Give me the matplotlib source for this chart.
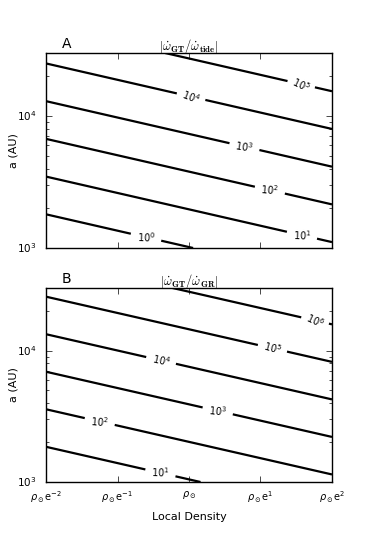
import numpy as np
import matplotlib
matplotlib.use("Agg")
import matplotlib.pyplot as plt

plt.style.use('classic')
plt.rcParams['font.family'] = 'DejaVu Sans'
plt.rcParams['mathtext.fontset'] = 'dejavusans'

# x axis: ln(rho / rho_sun), ticks at e^-2 .. e^2
density_ticks = [-2, -1, 0, 1, 2]
density_labels = [r'$\rho_\odot\mathrm{e}^{-2}$', r'$\rho_\odot\mathrm{e}^{-1}$',
                  r'$\rho_\odot$', r'$\rho_\odot\mathrm{e}^{1}$', r'$\rho_\odot\mathrm{e}^{2}$']
a_range = [1e3, 3e4]  # AU

# ratio ~ norm * a^power * (rho/rho_sun)
power_a = 3.5
log_norm_tide = -10.525
log_norm_gr = -9.57
levels_tide = [0, 1, 2, 3, 4, 5]   # log10 of |w_GT / w_tide|
levels_gr = [1, 2, 3, 4, 5, 6]     # log10 of |w_GT / w_GR|

# approximate clabel positions (ln rho, a)
label_pos_tide = [(-0.60, 1.6e3), (1.58, 1.25e3), (1.13, 2.6e3), (0.77, 5.5e3),
                  (0.01, 1.35e4), (1.55, 1.7e4)]
label_pos_gr = [(-0.40, 1.1e3), (-1.25, 2.7e3), (0.4, 3.3e3), (-0.40, 8.0e3),
                (1.15, 9.8e3), (1.7, 1.55e4)]

x = np.linspace(-2, 2, 200)
a = np.logspace(np.log10(a_range[0]), np.log10(a_range[1]), 200)
X, A = np.meshgrid(x, a)


def draw_panel(ax, log_norm, levels, label_pos):
    log_ratio = log_norm + power_a * np.log10(A) + X / np.log(10)
    cs = ax.contour(X, A, log_ratio, levels=levels, colors='k', linewidths=1.6)
    ax.clabel(cs, fmt=lambda v: r'$\mathit{10^{%d}}$' % v, fontsize=7,
              manual=label_pos, inline=True, inline_spacing=6)
    ax.set_yscale('log')
    ax.set_xlim(-2, 2)
    ax.set_ylim(*a_range)
    ax.set_xticks(density_ticks)
    ax.set_ylabel('a (AU)', fontsize=8, labelpad=-1)
    ax.tick_params(axis='y', labelsize=7.5, pad=7)
    ax.tick_params(axis='x', labelsize=7, pad=5)


fig = plt.figure(figsize=(3.69, 5.36), dpi=100, facecolor='white')
ax1 = fig.add_axes([0.1247, 0.5373, 0.775, 0.3638])
ax2 = fig.add_axes([0.1247, 0.1007, 0.775, 0.3620])

draw_panel(ax1, log_norm_tide, levels_tide, label_pos_tide)
ax1.set_xticklabels([])
ax1.set_title(r'$|\dot{\omega}_{\mathbf{GT}}/\dot{\omega}_{\mathbf{tide}}|$',
              fontsize=9, pad=2, math_fontfamily='cm')
ax1.text(0.055, 1.01, 'A', transform=ax1.transAxes, fontsize=10, va='bottom')

draw_panel(ax2, log_norm_gr, levels_gr, label_pos_gr)
ax2.set_xticklabels(density_labels)
ax2.set_xlabel('Local Density', fontsize=8)
ax2.set_title(r'$|\dot{\omega}_{\mathbf{GT}}/\dot{\omega}_{\mathbf{GR}}|$',
              fontsize=9, pad=2, math_fontfamily='cm')
ax2.text(0.055, 1.01, 'B', transform=ax2.transAxes, fontsize=10, va='bottom')

fig.savefig('out.png', dpi=100, facecolor='white')
